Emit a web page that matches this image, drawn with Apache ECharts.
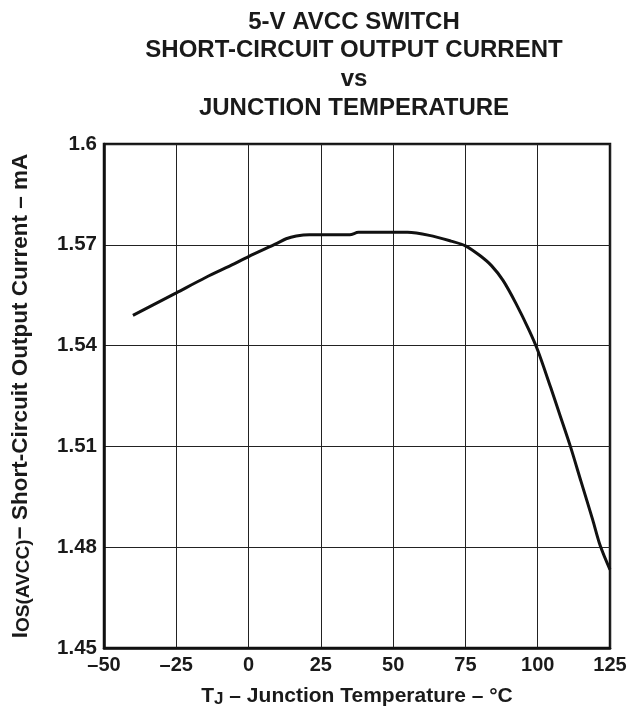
<!DOCTYPE html>
<html>
<head>
<meta charset="utf-8">
<script src="https://cdn.jsdelivr.net/npm/echarts@6/dist/echarts.min.js"></script>
<style>
html,body{margin:0;padding:0;background:#fff;}
#chart{width:634px;height:713px;}
</style>
</head>
<body>
<div id="chart"></div>
<script>
// Junction temperature (°C)
const tempC = [-40, -25, -15, -5, 0, 10, 13, 16.5, 21, 35, 38, 55, 62.5, 70, 75, 80, 84, 88, 92.5, 97, 100, 104.5, 107.5, 111.3, 115, 119, 121.6, 125];
// Short-circuit output current (mA)
const currentMA = [1.549, 1.5557, 1.5602, 1.5643, 1.5665, 1.5705, 1.5718, 1.5726, 1.573, 1.573, 1.5737, 1.5737, 1.5728, 1.5711, 1.5697, 1.5668, 1.5638, 1.5594, 1.5525, 1.5446, 1.5386, 1.5275, 1.5198, 1.51, 1.4995, 1.4882, 1.4805, 1.4733];
// Tick values
const xTicks = [-50, -25, 0, 25, 50, 75, 100, 125];
const yTicks = [1.45, 1.48, 1.51, 1.54, 1.57, 1.6];
const titleLines = ['5-V AVCC SWITCH', 'SHORT-CIRCUIT OUTPUT CURRENT', 'vs', 'JUNCTION TEMPERATURE'];

const FONT = 'Liberation Sans, Arial, sans-serif';
const chart = echarts.init(document.getElementById('chart'), null, {renderer: 'canvas'});

const titleTops = [5, 33, 62, 91];
const titles = titleLines.map((t, i) => ({
  text: t,
  left: 349,
  top: titleTops[i],
  textAlign: 'center',
  textStyle: {fontFamily: FONT, fontWeight: 'bold', fontSize: 24, color: '#1a1a1a'}
}));

chart.setOption({
  backgroundColor: '#fff',
  animation: false,
  title: titles,
  grid: {left: 104, right: 24, top: 144, bottom: 65, outerBoundsMode: 'none', containLabel: false,
         show: true, borderColor: '#111', borderWidth: 2.5, backgroundColor: 'transparent'},
  xAxis: {
    type: 'value',
    min: xTicks[0],
    max: xTicks[xTicks.length - 1],
    interval: 25,
    name: '{a|T}{s|J}{a| – Junction Temperature – °C}',
    nameLocation: 'middle',
    nameGap: 38,
    nameTextStyle: {
      rich: {
        a: {fontFamily: FONT, fontWeight: 'bold', fontSize: 21, color: '#1a1a1a', padding: [0, 0, 5, 0]},
        s: {fontFamily: FONT, fontWeight: 'bold', fontSize: 17, color: '#1a1a1a'}
      }
    },
    axisLine: {show: true, onZero: false, lineStyle: {color: '#111', width: 2.5}},
    axisTick: {show: false},
    splitLine: {show: true, lineStyle: {color: '#222', width: 1}},
    axisLabel: {
      margin: 7,
      fontFamily: FONT, fontWeight: 'bold', fontSize: 20, color: '#1a1a1a',
      formatter: v => (v < 0 ? '\u2013' + Math.abs(v) : String(v))
    }
  },
  yAxis: {
    type: 'value',
    min: yTicks[0],
    max: yTicks[yTicks.length - 1],
    name: '{a|I}{s|OS(AVCC)}{a|\u2212 Short-Circuit Output Current – mA}',
    nameLocation: 'middle',
    nameRotate: 90,
    nameGap: 66,
    nameTextStyle: {
      rich: {
        a: {fontFamily: FONT, fontWeight: 'bold', fontSize: 22.5, color: '#1a1a1a', padding: [0, 0, 6, 0]},
        s: {fontFamily: FONT, fontWeight: 'bold', fontSize: 19, color: '#1a1a1a'}
      }
    },
    axisLine: {show: true, onZero: false, lineStyle: {color: '#111', width: 2.5}},
    axisTick: {show: false, customValues: yTicks},
    splitLine: {show: true, lineStyle: {color: '#222', width: 1}},
    axisLabel: {
      customValues: yTicks,
      margin: 7,
      fontFamily: FONT, fontWeight: 'bold', fontSize: 20.5, color: '#1a1a1a',
      formatter: v => String(Math.round(v * 100) / 100)
    }
  },
  series: [{
    type: 'line',
    data: tempC.map((t, i) => [t, currentMA[i]]),
    showSymbol: false,
    smooth: 0.3,
    lineStyle: {color: '#111', width: 3},
    z: 5
  }]
});
</script>
</body>
</html>
